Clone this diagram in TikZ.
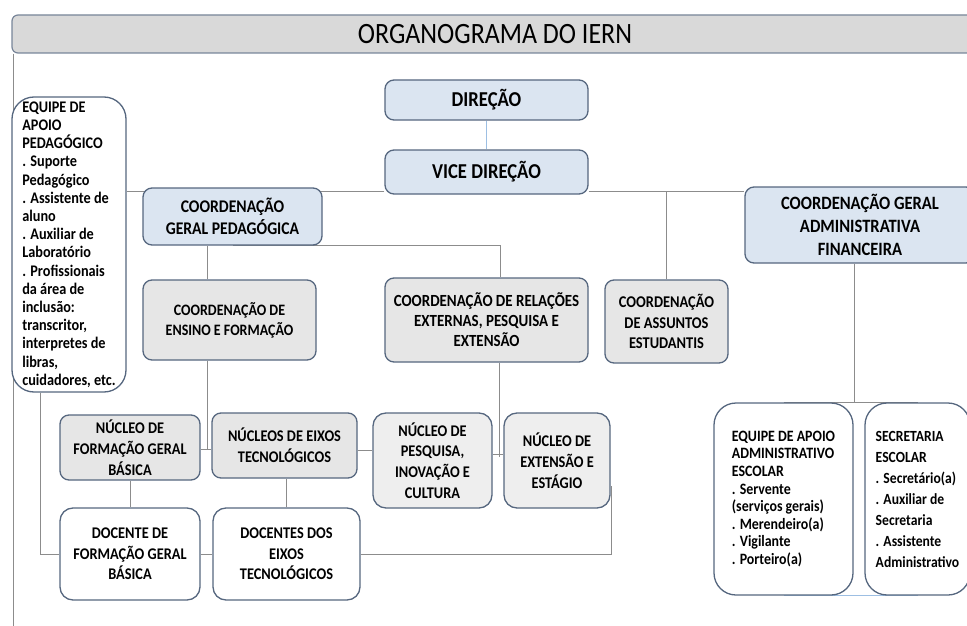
\documentclass[tikz,border=0pt]{standalone}
\usepackage{fontspec}
\setmainfont{Carlito}[FakeStretch=0.88]
\usetikzlibrary{backgrounds,calc}
\definecolor{bordc}{HTML}{56677F}
\definecolor{linec}{HTML}{8C8C8C}
\definecolor{lblue}{HTML}{9DBFE3}
\definecolor{bluef}{HTML}{DBE5F1}
\definecolor{grayf}{HTML}{E6E6E6}
\definecolor{grayg}{HTML}{EEEEEE}
\definecolor{titlef}{HTML}{D9D9D9}
\tikzset{
  box/.style={draw=bordc, line width=1.3pt, rounded corners=9pt, inner sep=0pt, align=center},
  bluebox/.style={box, fill=bluef},
  graybox/.style={box, fill=grayf},
  lgraybox/.style={box, fill=grayg, rounded corners=13pt},
  whitebox/.style={box, fill=white, rounded corners=13pt},
  listbox/.style={box, fill=white, rounded corners=22pt, align=left},
  conn/.style={draw=linec, line width=1pt},
  bconn/.style={draw=lblue, line width=1pt}
}
\begin{document}
\begin{tikzpicture}[x=1pt,y=-1pt]
\useasboundingbox (0,0) rectangle (967,626);
% title
\node[draw=bordc!80, line width=1.2pt, fill=titlef, rounded corners=6pt, minimum width=966pt, minimum height=38pt, inner sep=0pt,
  font=\fontsize{29.5}{34}\selectfont] (titlebar) at (495,34) {ORGANOGRAMA DO IERN};
% nodes
\node[bluebox, minimum width=203pt, minimum height=40pt, font=\bfseries\fontsize{21.2}{25}\selectfont] (dir) at (486.5,100) {DIREÇÃO};
\node[bluebox, minimum width=203pt, minimum height=44pt, font=\bfseries\fontsize{21.2}{25}\selectfont] (vice) at (486.5,172) {VICE DIREÇÃO};
\node[bluebox, minimum width=179pt, minimum height=57pt, font=\bfseries\fontsize{17.8}{22.5}\selectfont] (cgp) at (232.5,216.5) {COORDENAÇÃO\\GERAL PEDAGÓGICA};
\node[bluebox, minimum width=230pt, minimum height=76pt, font=\bfseries\fontsize{18.8}{23}\selectfont] (cgaf) at (860,225) {COORDENAÇÃO GERAL\\ADMINISTRATIVA\\FINANCEIRA};
\node[graybox, minimum width=173pt, minimum height=80pt, font=\bfseries\fontsize{15.9}{20}\selectfont] (cef) at (229.5,320) {COORDENAÇÃO DE\\ENSINO E FORMAÇÃO};
\node[graybox, minimum width=203pt, minimum height=84pt, font=\bfseries\fontsize{17}{20}\selectfont] (cre) at (486.5,320) {COORDENAÇÃO DE RELAÇÕES\\EXTERNAS, PESQUISA E\\EXTENSÃO};
\node[graybox, minimum width=123pt, minimum height=83pt, font=\bfseries\fontsize{16.4}{20.5}\selectfont] (cae) at (666.5,321.5) {COORDENAÇÃO\\DE ASSUNTOS\\ESTUDANTIS};
\node[listbox, minimum width=114pt, minimum height=295pt, font=\bfseries\fontsize{16.2}{18.2}\selectfont] (equipe) at (69,244.5)
  {EQUIPE DE\\APOIO\\PEDAGÓGICO\\. Suporte\\Pedagógico\\. Assistente de\\aluno\\. Auxiliar de\\Laboratório\\. Profissionais\\da área de\\inclusão:\\transcritor,\\interpretes de\\libras,\\cuidadores, etc.};
\node[graybox, minimum width=140pt, minimum height=65pt, font=\bfseries\fontsize{16.3}{20.8}\selectfont] (nfgb) at (130,447.5) {NÚCLEO DE\\FORMAÇÃO GERAL\\BÁSICA};
\node[graybox, minimum width=145pt, minimum height=65pt, font=\bfseries\fontsize{16.3}{20.8}\selectfont] (net) at (284.5,445.5) {NÚCLEOS DE EIXOS\\TECNOLÓGICOS};
\node[lgraybox, minimum width=119pt, minimum height=95pt, font=\bfseries\fontsize{16.3}{20.8}\selectfont] (npic) at (432.5,460.5) {NÚCLEO DE\\PESQUISA,\\INOVAÇÃO E\\CULTURA};
\node[lgraybox, minimum width=106pt, minimum height=95pt, font=\bfseries\fontsize{16.3}{20.8}\selectfont] (nee) at (557,460.5) {NÚCLEO DE\\EXTENSÃO E\\ESTÁGIO};
\node[whitebox, minimum width=140pt, minimum height=92pt, font=\bfseries\fontsize{16.3}{20.3}\selectfont] (dfgb) at (130,554) {DOCENTE DE\\FORMAÇÃO GERAL\\BÁSICA};
\node[whitebox, minimum width=147pt, minimum height=92pt, font=\bfseries\fontsize{16.3}{20.3}\selectfont] (det) at (286.5,554) {DOCENTES DOS\\EIXOS\\TECNOLÓGICOS};
\node[listbox, minimum width=139pt, minimum height=192pt, font=\bfseries\fontsize{15.8}{17.6}\selectfont] (eaae) at (783.5,499)
  {EQUIPE DE APOIO\\ADMINISTRATIVO\\ESCOLAR\\. Servente\\(serviços gerais)\\. Merendeiro(a)\\. Vigilante\\. Porteiro(a)};
\node[listbox, minimum width=105pt, minimum height=192pt, font=\bfseries\fontsize{15.5}{21}\selectfont] (se) at (917.5,499)
  {SECRETARIA\\ESCOLAR\\. Secretário(a)\\. Auxiliar de\\Secretaria\\. Assistente\\Administrativo};
% connectors
\begin{scope}[on background layer]
  \draw[conn] ([xshift=2pt]titlebar.south west) -- ([xshift=2pt]titlebar.south west |- 0,626);
  \draw[bconn] (dir.south) -- (vice.north);
  \coordinate (vl) at ([yshift=3pt]vice.south west);
  \coordinate (vr) at ([yshift=3pt]vice.south east);
  \draw[conn] (vl) -- (vl -| equipe.east);
  \draw[conn] (vr) -- (vr -| cgaf.west);
  \draw[conn] (cae.north) -- (cae.north |- vr);
  \coordinate (creT) at ([xshift=13.5pt]cre.north);
  \draw[conn] (cgp.south) -| (creT);
  \coordinate (cefT) at ([xshift=-22pt]cef.north);
  \draw[conn] (cefT) -- (cefT |- cgp.south);
  \coordinate (cefB) at ([xshift=-22pt]cef.south);
  \coordinate (j1) at ([yshift=-1.5pt]nfgb.east);
  \draw[conn] (cefB) -- (cefB |- j1);
  \draw[conn] (j1) -- (j1 -| net.west);
  \coordinate (j3) at ([yshift=-5pt]net.east);
  \draw[conn] (j3) -- (j3 -| npic.west);
  \coordinate (creB) at ([xshift=13pt]cre.south);
  \coordinate (j2) at ([yshift=6pt]npic.east);
  \draw[conn] (creB) -- (creB |- 0,457);
  \draw[conn] (j2) -- (j2 -| nee.west);
  \draw[conn] (nfgb.south) -- (dfgb.north);
  \draw[conn] (det.north) -- (det.north |- net.south);
  \draw[conn] (dfgb.east) -- (det.west);
  \coordinate (eqB) at ([xshift=-29pt]equipe.south);
  \draw[conn] (eqB) |- (dfgb.west);
  \draw[conn] (det.east) -| ([yshift=23pt,xshift=1pt]nee.south east);
  \coordinate (cgafB) at ([xshift=-6pt]cgaf.south);
  \draw[conn] (cgafB) -- (cgafB |- eaae.north);
  \draw[conn] (eaae.north) -- (se.north);
  \draw[bconn] (eaae.south) -- (se.south);
\end{scope}
\end{tikzpicture}
\end{document}
